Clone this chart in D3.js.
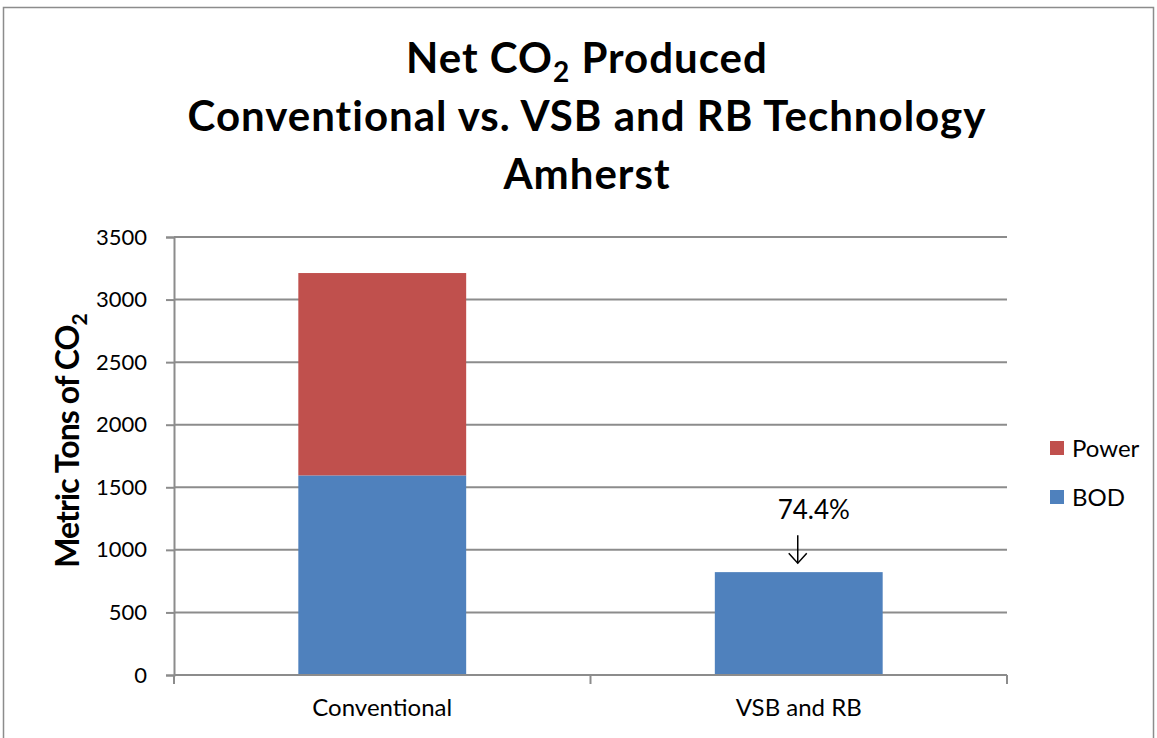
<!DOCTYPE html>
<html>
<head>
<meta charset="utf-8">
<script src="https://cdn.jsdelivr.net/npm/d3@7"></script>
<style>
  body { margin: 0; background: #fff; }
  text { font-family: Lato, "Open Sans", sans-serif; }
</style>
</head>
<body>
<script>
// donnees
const categories = ["Conventional", "VSB and RB"];
const bod = [1595, 822];
const power = [1617, 0];
const seriesNames = ["BOD", "Power"];
const seriesColors = ["#4f81bd", "#c0504d"];
const yTicks = [0, 500, 1000, 1500, 2000, 2500, 3000, 3500];
const annotation = "74.4%";

// dimensions
let margin = {top: 237, right: 150, bottom: 63, left: 174};
const W = 1157, H = 738;
const width = 1007 - margin.left;
const height = 675 - margin.top;

let svg = d3.select("body").append("svg")
  .attr("width", W)
  .attr("height", H);

// cadre
svg.append("rect")
  .attr("x", 3.5).attr("y", 7.5)
  .attr("width", 1150).attr("height", 740)
  .attr("fill", "none")
  .attr("stroke", "#8c8c8c")
  .attr("stroke-width", 1.5);

// titre
const title = svg.append("text")
  .attr("text-anchor", "middle")
  .attr("font-weight", "bold")
  .attr("font-size", 42)
  .attr("letter-spacing", 1)
  .attr("fill", "#000");
const l1 = title.append("tspan").attr("x", 587).attr("y", 73);
l1.append("tspan").text("Net CO");
l1.append("tspan").attr("font-size", 28).attr("dy", 9).text("2");
l1.append("tspan").attr("dy", -9).text(" Produced");
title.append("tspan").attr("x", 587).attr("y", 131).text("Conventional vs. VSB and RB Technology");
title.append("tspan").attr("x", 587).attr("y", 189).text("Amherst");

const g = svg.append("g")
  .attr("transform", `translate(${margin.left}, ${margin.top})`);

// echelles
let x = d3.scaleBand()
  .domain(categories)
  .range([0, width])
  .paddingInner(0.597)
  .paddingOuter(0.2985);

let y = d3.scaleLinear()
  .domain([0, 3500])
  .range([height, 0]);

// grille
g.append("g")
  .selectAll("line")
  .data(yTicks.slice(1))
  .join("line")
  .attr("x1", 0).attr("x2", width)
  .attr("y1", d => y(d)).attr("y2", d => y(d))
  .attr("stroke", "#8c8c8c")
  .attr("stroke-width", 2);

// barres empilees
const table = categories.map((c, i) => ({cat: c, BOD: bod[i], Power: power[i]}));
const stacked = d3.stack().keys(seriesNames)(table);

g.selectAll(".serie")
  .data(stacked)
  .join("g")
  .attr("fill", (d, i) => seriesColors[i])
  .selectAll("rect")
  .data(d => d)
  .join("rect")
  .attr("x", d => x(d.data.cat))
  .attr("width", x.bandwidth())
  .attr("y", d => y(d[1]))
  .attr("height", d => y(d[0]) - y(d[1]));

// axe Y
const axeY = d3.axisLeft(y).tickValues(yTicks).tickSize(8).tickPadding(19).tickFormat(d3.format("d"));
const gy = g.append("g").call(axeY);
gy.select(".domain").attr("stroke", "#8c8c8c").attr("stroke-width", 2);
gy.selectAll("line").attr("stroke", "#8c8c8c").attr("stroke-width", 2);
gy.selectAll("text").style("font-size", "22px").attr("fill", "#000");

// axe X
const xEdges = d3.scalePoint().domain(["a", "b", "c"]).range([0, width]);
const gx = g.append("g").attr("transform", `translate(0, ${height})`);
gx.append("line").attr("x1", 0).attr("x2", width)
  .attr("stroke", "#8c8c8c").attr("stroke-width", 2);
gx.selectAll(".tk")
  .data(xEdges.domain())
  .join("line")
  .attr("x1", d => xEdges(d)).attr("x2", d => xEdges(d))
  .attr("y1", 0).attr("y2", 9)
  .attr("stroke", "#8c8c8c").attr("stroke-width", 2);
gx.selectAll("text")
  .data(categories)
  .join("text")
  .attr("x", d => x(d) + x.bandwidth() / 2)
  .attr("y", 41)
  .attr("text-anchor", "middle")
  .style("font-size", "24px")
  .text(d => d);

// titre axe Y
const yl = svg.append("text")
  .attr("transform", `translate(79, ${margin.top + height / 2 - 15}) rotate(-90)`)
  .attr("text-anchor", "middle")
  .attr("font-weight", "bold")
  .attr("font-size", 32)
  .attr("letter-spacing", -0.9);
yl.append("tspan").text("Metric Tons of CO");
yl.append("tspan").attr("font-size", 21).attr("dy", 8).text("2");

// annotation
const cx = x(categories[1]) + x.bandwidth() / 2;
g.append("text")
  .attr("x", cx + 15).attr("y", y(bod[1]) - 53)
  .attr("text-anchor", "middle")
  .style("font-size", "26px")
  .text(annotation);
g.append("line")
  .attr("x1", cx - 1).attr("x2", cx - 1)
  .attr("y1", y(bod[1]) - 37).attr("y2", y(bod[1]) - 9)
  .attr("stroke", "#000").attr("stroke-width", 1.5);
g.append("path")
  .attr("d", `M${cx - 10},${y(bod[1]) - 19} L${cx - 1},${y(bod[1]) - 9} L${cx + 8},${y(bod[1]) - 19}`)
  .attr("fill", "none")
  .attr("stroke", "#000").attr("stroke-width", 1.5);

// legende
const leg = svg.append("g").attr("transform", "translate(1050, 441)");
const legItems = ["Power", "BOD"];
leg.selectAll("rect")
  .data(legItems)
  .join("rect")
  .attr("x", 0).attr("y", (d, i) => i * 49)
  .attr("width", 14).attr("height", 14)
  .attr("fill", d => seriesColors[seriesNames.indexOf(d)]);
leg.selectAll("text")
  .data(legItems)
  .join("text")
  .attr("x", 22).attr("y", (d, i) => i * 49 + 16)
  .style("font-size", "24px")
  .text(d => d);
</script>
</body>
</html>
